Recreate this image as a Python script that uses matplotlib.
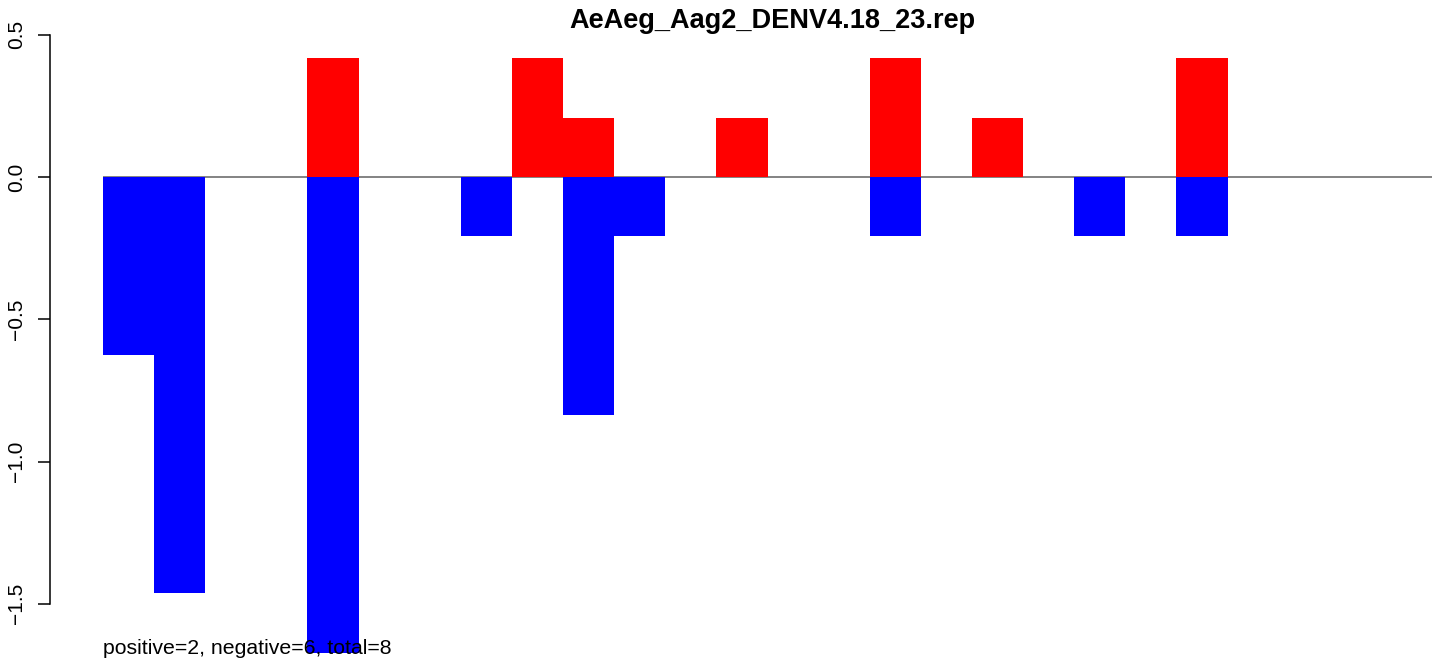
import matplotlib
matplotlib.use("Agg")
import matplotlib.pyplot as plt
import numpy as np

plt.rcParams["font.family"] = ["Liberation Sans", "DejaVu Sans"]

# one bar per position; positive part (red) and negative part (blue)
positive = [0, 0, 0, 0, 0.418, 0, 0, 0, 0.418, 0.209, 0, 0, 0.209, 0,
            0, 0.418, 0, 0.209, 0, 0, 0, 0.418, 0, 0, 0, 0]
negative = [-0.627, -1.463, 0, 0, -1.672, 0, 0, -0.209, 0, -0.836, -0.209, 0, 0, 0,
            0, -0.209, 0, 0, 0, -0.209, 0, -0.209, 0, 0, 0, 0]
yticks = [0.5, 0.0, -0.5, -1.0, -1.5]
title = "AeAeg_Aag2_DENV4.18_23.rep"
note = "positive=2, negative=6, total=8"

W, H = 1439, 664
fig = plt.figure(figsize=(W / 100, H / 100), dpi=100)

# axes in pixel terms: y spine at x=50, bars start at x=103, 51.12 px per bar
px_bar = 1329 / 26
px_unit = 284.5
ax = fig.add_axes([50 / W, 0, 1 - 50 / W, 1])
ax.set_xlim(-(103 - 50) / px_bar, (W - 103) / px_bar)
ax.set_ylim(-(H - 177) / px_unit, 177 / px_unit)

x = np.arange(len(positive))
ax.hlines(0, 0, len(positive), color="#6e6e6e", linewidth=1.2, zorder=1)
ax.bar(x, positive, width=1.0, align="edge", color="red", linewidth=0, zorder=2)
ax.bar(x, negative, width=1.0, align="edge", color="blue", linewidth=0, zorder=2)

for side in ["top", "right", "bottom"]:
    ax.spines[side].set_visible(False)
ax.spines["left"].set_bounds(yticks[-1], yticks[0])
ax.spines["left"].set_linewidth(1.1)
ax.set_xticks([])
ax.set_yticks(yticks)
ax.set_yticklabels([f"{v:.1f}".replace("-", "\u2212") for v in yticks],
                   rotation=90, va="center", fontsize=15)
ax.tick_params(axis="y", length=8.6, width=1.1, pad=8.5)

fig.text(772 / W, 1 - 21 / H, title, ha="center", va="center",
         fontsize=19.5, fontweight="bold")
fig.text(103 / W, 1 - 649 / H, note, ha="left", va="center", fontsize=15.3)

fig.savefig("out.png", dpi=100)
